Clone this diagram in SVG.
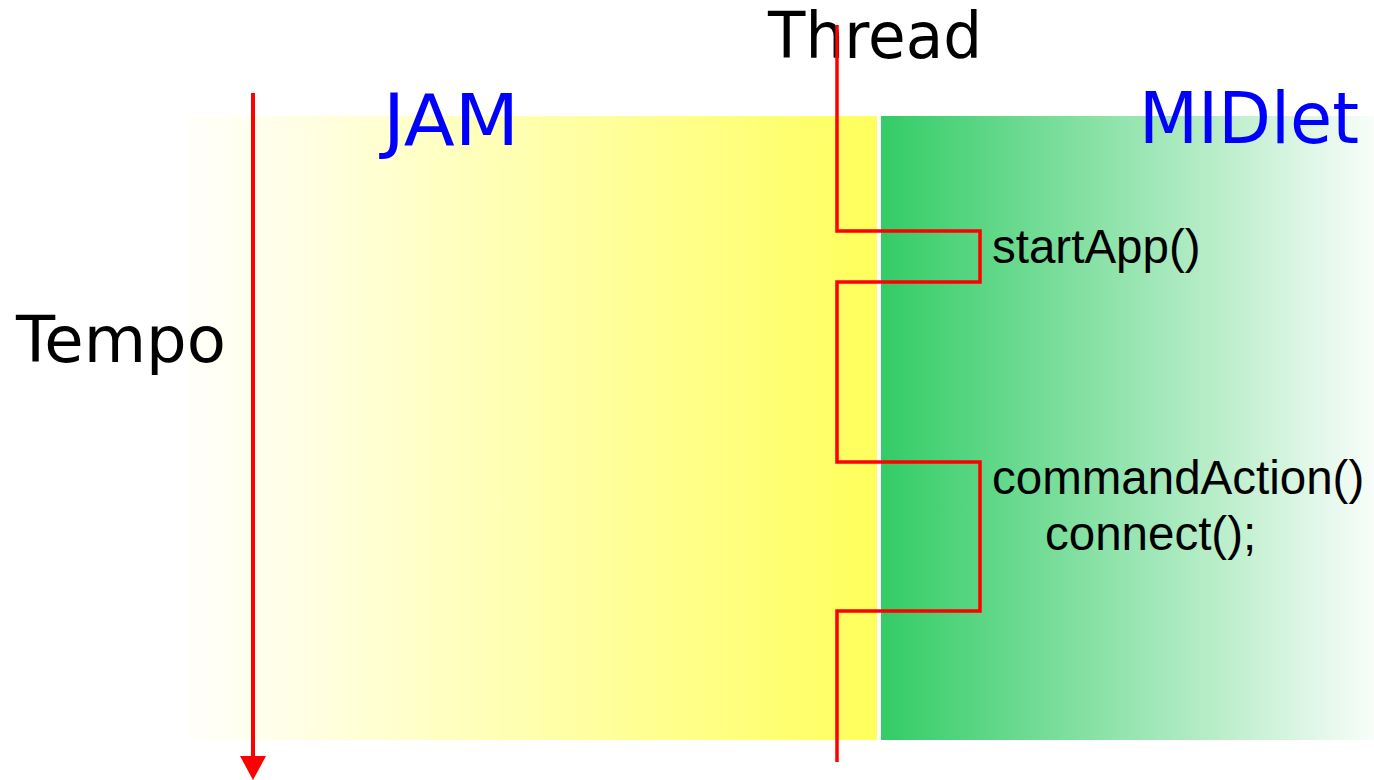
<svg xmlns="http://www.w3.org/2000/svg" width="1374" height="780" viewBox="0 0 1374 780">
  <defs>
    <linearGradient id="gJam" x1="0" y1="0" x2="1" y2="0">
      <stop offset="0" stop-color="#fffffa"/>
      <stop offset="0.15" stop-color="#ffffe6"/>
      <stop offset="1" stop-color="#ffff5c"/>
    </linearGradient>
    <linearGradient id="gMid" x1="0" y1="0" x2="1" y2="0">
      <stop offset="0" stop-color="#33cc66"/>
      <stop offset="1" stop-color="#f8fdf9"/>
    </linearGradient>
    <marker id="arrow" markerWidth="24" markerHeight="26" refX="0" refY="13" orient="auto" markerUnits="userSpaceOnUse" viewBox="0 0 24 26">
      <path d="M0,0 L24,13 L0,26 Z" fill="#ff0000"/>
    </marker>
    <style>
      .big { font-family: "DejaVu Sans", "Liberation Sans", sans-serif; }
      .blue { fill: #0000ff; }
      .blk { fill: #000000; }
      .method { font-family: "Liberation Sans", Arial, sans-serif; font-size: 47.5px; fill: #000000; }
      .thread { fill: none; stroke: #ff0000; stroke-width: 3.5; stroke-linejoin: miter; }
    </style>
  </defs>

  <g id="jam">
    <rect x="188" y="116" width="689" height="624" fill="url(#gJam)"/>
    <text class="big blue" x="383" y="145" font-size="72" textLength="136" lengthAdjust="spacingAndGlyphs">JAM</text>
  </g>

  <g id="midlet">
    <rect x="881" y="116" width="493" height="624" fill="url(#gMid)"/>
    <text class="big blue" x="1139" y="143" font-size="72" textLength="220" lengthAdjust="spacingAndGlyphs">MIDlet</text>
    <text class="method" x="992" y="263">startApp()</text>
    <text class="method" x="992" y="494">commandAction()</text>
    <text class="method" x="1045" y="550">connect();</text>
  </g>

  <g id="labels">
    <text class="big blk" x="768" y="58" font-size="64" textLength="214" lengthAdjust="spacingAndGlyphs">Thread</text>
    <text class="big blk" x="16" y="362" font-size="64" textLength="210" lengthAdjust="spacingAndGlyphs">Tempo</text>
  </g>

  <g id="connectors">
    <path class="thread" d="M837,25 L837,231 L980,231 L980,282 L837,282 L837,462 L980,462 L980,611 L837,611 L837,762"/>
    <line x1="253" y1="93" x2="253" y2="756" stroke="#ff0000" stroke-width="4" marker-end="url(#arrow)"/>
  </g>
</svg>
